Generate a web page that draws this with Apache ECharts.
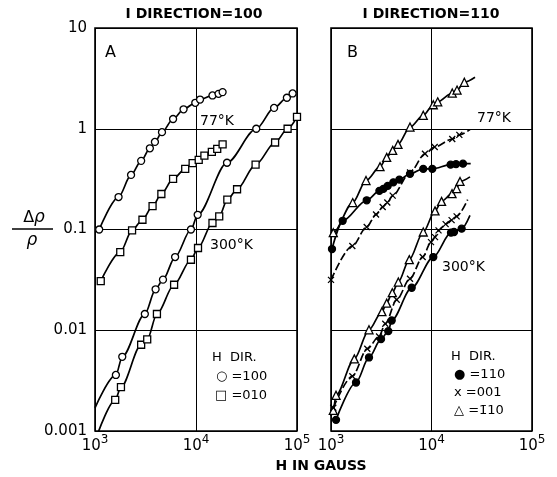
<!DOCTYPE html>
<html>
<head>
<meta charset="utf-8">
<script src="https://cdn.jsdelivr.net/npm/echarts@6/dist/echarts.min.js"></script>
<style>
  html, body { margin: 0; padding: 0; background: #fff; }
  #chart { width: 557px; height: 477px; }
</style>
</head>
<body>
<div id="chart"></div>
<script>
// tick labels
var xTickExp = ['3', '4', '5'];
var yTickLabels = ['0.001', '0.01', '0.1', '1', '10'];

// panel A (I direction = 100), 77 K
var a77CircleH = [1100, 1711, 2275, 2864, 3493, 3920, 4605, 5930, 7530, 9840, 10960, 14560, 16720, 18340];
var a77CircleR = [0.1, 0.21, 0.348, 0.48, 0.64, 0.74, 0.925, 1.25, 1.56, 1.81, 1.95, 2.14, 2.22, 2.31];
var a77SquareH = [1140, 1778, 2328, 2951, 3715, 4540, 5930, 7820, 9260, 10640, 12110, 14350, 16220, 18340];
var a77SquareR = [0.0308, 0.0597, 0.098, 0.125, 0.171, 0.225, 0.318, 0.40, 0.455, 0.49, 0.54, 0.59, 0.63, 0.70];
// panel A, 300 K
var a300CircleH = [1610, 1862, 3115, 3981, 4710, 6210, 8913, 10390, 20280, 39500, 59300, 79400, 90500];
var a300CircleR = [0.0036, 0.00545, 0.0145, 0.0255, 0.0318, 0.0533, 0.1, 0.14, 0.46, 1.0, 1.61, 2.03, 2.24];
var a300SquareH = [1080, 1585, 1807, 2864, 3288, 4104, 6070, 8913, 10470, 14560, 16980, 20420, 25500, 38900, 60700, 80700, 100000];
var a300SquareR = [0.00098, 0.00204, 0.00272, 0.00718, 0.0081, 0.0145, 0.0283, 0.0501, 0.0655, 0.116, 0.135, 0.198, 0.251, 0.44, 0.73, 1.0, 1.31];

// panel B (I direction = 110), 77 K
var b77TriH = [1054, 1644, 2230, 3076, 3581, 4110, 4640, 6110, 8280, 10420, 11530, 16090, 17950, 21220];
var b77TriR = [0.093, 0.185, 0.306, 0.42, 0.52, 0.61, 0.70, 1.04, 1.36, 1.73, 1.85, 2.26, 2.42, 2.89];
var b77CrossH = [1000, 1630, 2266, 2806, 3268, 3633, 4110, 6110, 8610, 10760, 16090, 18920];
var b77CrossR = [0.0316, 0.0686, 0.106, 0.141, 0.167, 0.185, 0.217, 0.368, 0.564, 0.66, 0.79, 0.87];
var b77DotH = [1023, 1307, 2266, 3030, 3320, 3664, 4169, 4786, 6110, 8280, 10190, 15490, 17540, 20560];
var b77DotR = [0.064, 0.122, 0.195, 0.242, 0.253, 0.271, 0.294, 0.313, 0.357, 0.40, 0.40, 0.44, 0.445, 0.45];
// panel B, 300 K
var b300TriH = [1054, 1122, 1706, 2388, 3213, 3581, 4074, 4677, 6011, 8280, 10840, 12590, 16000, 17780, 19220];
var b300TriR = [0.0016, 0.00226, 0.0052, 0.0101, 0.0153, 0.0186, 0.0236, 0.0301, 0.0502, 0.0944, 0.153, 0.19, 0.227, 0.255, 0.30];
var b300CrossH = [1054, 1630, 2296, 3006, 3466, 4508, 6110, 8166, 9886, 10840, 11750, 13830, 15850, 17780];
var b300CrossR = [0.0017, 0.0035, 0.00655, 0.00867, 0.0116, 0.0201, 0.0325, 0.0533, 0.075, 0.084, 0.098, 0.113, 0.124, 0.135];
var b300DotH = [1122, 1774, 2388, 3148, 3715, 4018, 6353, 10420, 15630, 16750, 19950];
var b300DotR = [0.00129, 0.00303, 0.00537, 0.00817, 0.0098, 0.0125, 0.0264, 0.0533, 0.093, 0.0944, 0.102];

// where the drawn curves run past the first / last marker
var a300CircleFrom = [1000, 0.0017];
var b77TriFrom = [1000, 0.085];
var b77TriTo = [27100, 3.24];
var b77CrossTo = [24150, 0.98];
var b77DotTo = [24550, 0.45];
var b300TriFrom = [1000, 0.0014];
var b300TriTo = [24150, 0.333];
var b300CrossTo = [22900, 0.198];
var b300DotTo = [24150, 0.138];

var FONT = 'DejaVu Sans';

function pts(h, r) {
  var out = [];
  for (var i = 0; i < h.length; i++) out.push([h[i], r[i]]);
  return out;
}

function curve(panel, h, r, from, to, dashed) {
  var d = pts(h, r);
  if (from) d.unshift(from);
  if (to) d.push(to);
  return {
    type: 'line', xAxisIndex: panel, yAxisIndex: panel,
    data: d, symbol: 'none', smooth: 0.3, smoothMonotone: 'x',
    lineStyle: { color: '#000', width: 1.7, type: dashed ? [8, 3] : 'solid' },
    z: 2, silent: true
  };
}

function marks(panel, h, r, symbol, size, fill) {
  return {
    type: 'scatter', xAxisIndex: panel, yAxisIndex: panel,
    data: pts(h, r), symbol: symbol, symbolSize: size,
    itemStyle: { color: fill, borderColor: '#000', borderWidth: 1.3, opacity: 1 },
    z: 3, silent: true
  };
}

var CROSS = 'path://M0,0L10,10M0,10L10,0';

function xAxis(idx) {
  return {
    type: 'log', logBase: 10, gridIndex: idx, min: 1000, max: 100000,
    axisLine: { show: false }, axisTick: { show: false },
    splitLine: { show: true, lineStyle: { color: '#000', width: 1 } },
    axisLabel: {
      margin: 3,
      formatter: function (v) { return '{b|10}{s|' + xTickExp[Math.round(Math.log10(v)) - 3] + '}'; },
      rich: {
        b: { fontFamily: FONT, fontSize: 15, color: '#000', lineHeight: 20, verticalAlign: 'bottom' },
        s: { fontFamily: FONT, fontSize: 12, color: '#000', lineHeight: 14, verticalAlign: 'top' }
      }
    }
  };
}

function yAxis(idx, labels) {
  return {
    type: 'log', logBase: 10, gridIndex: idx, min: 0.001, max: 10,
    axisLine: { show: false }, axisTick: { show: false },
    splitLine: { show: true, lineStyle: { color: '#000', width: 1 } },
    axisLabel: {
      show: labels, margin: 8, color: '#000', fontFamily: FONT, fontSize: 15,
      formatter: function (v) { return yTickLabels[Math.round(Math.log10(v)) + 3]; }
    }
  };
}

function txt(x, y, s, size, align, weight) {
  return {
    type: 'text', x: x, y: y,
    style: { text: s, fontFamily: FONT, fontSize: size || 13, fill: '#000',
      fontWeight: weight || 'normal', align: align || 'left', verticalAlign: 'middle' }
  };
}

var chart = echarts.init(document.getElementById('chart'));
chart.setOption({
  animation: false,
  backgroundColor: '#fff',
  grid: [
    { left: 95, top: 28, width: 202, height: 403, show: true, borderColor: '#000', borderWidth: 1.6 },
    { left: 331, top: 28, width: 201, height: 403, show: true, borderColor: '#000', borderWidth: 1.6 }
  ],
  xAxis: [xAxis(0), xAxis(1)],
  yAxis: [yAxis(0, true), yAxis(1, false)],
  series: [
    curve(0, a77CircleH, a77CircleR),
    curve(0, a77SquareH, a77SquareR),
    curve(0, a300CircleH, a300CircleR, a300CircleFrom),
    curve(0, a300SquareH, a300SquareR),
    marks(0, a77CircleH, a77CircleR, 'circle', 7, '#fff'),
    marks(0, a77SquareH, a77SquareR, 'rect', 7, '#fff'),
    marks(0, a300CircleH, a300CircleR, 'circle', 7, '#fff'),
    marks(0, a300SquareH, a300SquareR, 'rect', 7, '#fff'),

    curve(1, b77TriH, b77TriR, b77TriFrom, b77TriTo),
    curve(1, b77CrossH, b77CrossR, null, b77CrossTo, true),
    curve(1, b77DotH, b77DotR, null, b77DotTo),
    curve(1, b300TriH, b300TriR, b300TriFrom, b300TriTo),
    curve(1, b300CrossH, b300CrossR, null, b300CrossTo, true),
    curve(1, b300DotH, b300DotR, null, b300DotTo),
    marks(1, b77TriH, b77TriR, 'triangle', 8, '#fff'),
    marks(1, b77CrossH, b77CrossR, CROSS, 6, 'none'),
    marks(1, b77DotH, b77DotR, 'circle', 7, '#000'),
    marks(1, b300TriH, b300TriR, 'triangle', 8, '#fff'),
    marks(1, b300CrossH, b300CrossR, CROSS, 6, 'none'),
    marks(1, b300DotH, b300DotR, 'circle', 7, '#000')
  ],
  graphic: [
    txt(194, 14, 'I DIRECTION=100', 14, 'center', 'bold'),
    txt(431, 14, 'I DIRECTION=110', 14, 'center', 'bold'),
    txt(105, 53, 'A', 16),
    txt(347, 53, 'B', 16),
    txt(200, 121, '77°K', 14),
    txt(210, 245, '300°K', 14),
    txt(477, 118, '77°K', 14),
    txt(442, 267, '300°K', 14),
    txt(212, 358, 'H  DIR.', 13),
    txt(216, 377, '\u25CB =100', 13),
    txt(215, 396, '\u25A1 =010', 13),
    txt(451, 357, 'H  DIR.', 13),
    txt(454, 375, '\u25CF =110', 13),
    txt(454, 393, 'x =001', 13),
    txt(454, 411, '\u25B3 =1\u030410', 13),
    txt(321, 466, 'H IN GAUSS', 14, 'center', 'bold'),
    {
      type: 'text', x: 34, y: 218,
      style: { text: '\u0394{i|\u03C1}', fontFamily: FONT, fontSize: 16, fill: '#000',
        align: 'center', verticalAlign: 'middle',
        rich: { i: { fontFamily: FONT, fontSize: 17, fontStyle: 'italic', fill: '#000' } } }
    },
    { type: 'line', shape: { x1: 12, y1: 229, x2: 53, y2: 229 }, style: { stroke: '#000', lineWidth: 1.5 } },
    {
      type: 'text', x: 32, y: 241,
      style: { text: '\u03C1', fontFamily: FONT, fontSize: 17, fontStyle: 'italic', fill: '#000',
        align: 'center', verticalAlign: 'middle' }
    }
  ]
});
</script>
</body>
</html>
